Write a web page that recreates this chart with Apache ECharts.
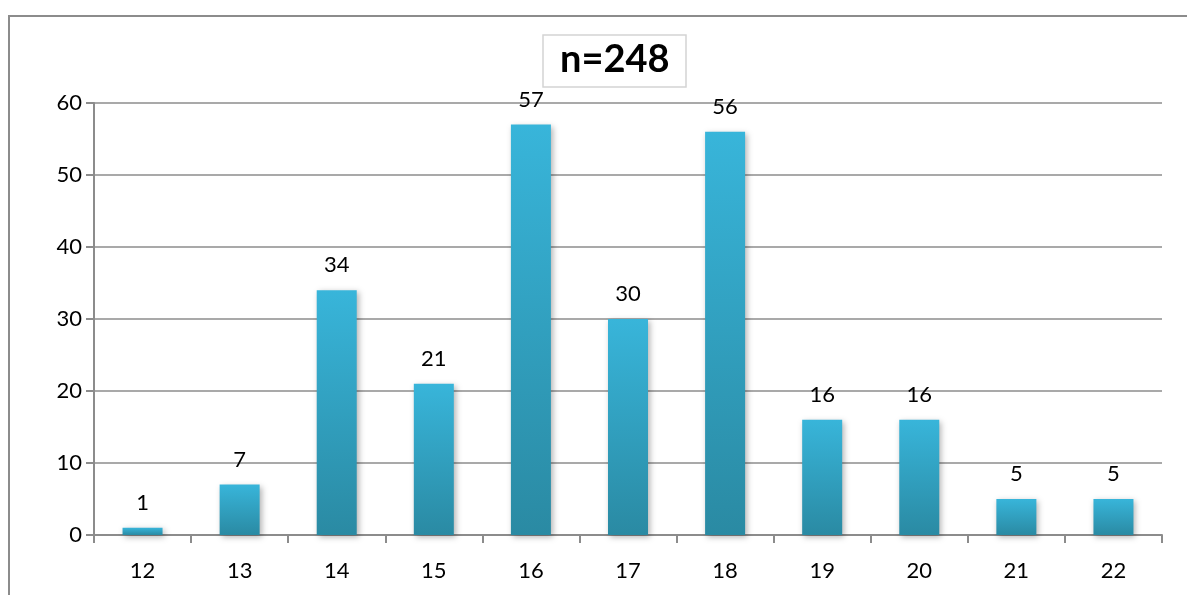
<!DOCTYPE html>
<html>
<head>
<meta charset="utf-8">
<script src="https://cdn.jsdelivr.net/npm/echarts@6/dist/echarts.min.js"></script>
<style>
  html, body { margin: 0; padding: 0; background: #fff; }
  #chart { width: 1187px; height: 595px; }
</style>
</head>
<body>
<div id="chart"></div>
<script>
// Ages and the number of respondents at each age
const categories = ['12', '13', '14', '15', '16', '17', '18', '19', '20', '21', '22'];
const counts = [1, 7, 34, 21, 57, 30, 56, 16, 16, 5, 5];
const yTicks = { min: 0, max: 60, interval: 10 };
const titleText = 'n=248';

const chart = echarts.init(document.getElementById('chart'));
const font = 'Lato, "Open Sans", sans-serif';

chart.setOption({
  animation: false,
  title: {
    text: titleText,
    left: 543,
    top: 35,
    padding: [6, 17, 8, 17],
    borderColor: '#d4d4d4',
    borderWidth: 1.5,
    textStyle: { fontFamily: font, fontSize: 38, fontWeight: 'bold', color: '#000' }
  },
  graphic: [{
    type: 'rect',
    shape: { x: 9, y: 16, width: 1200, height: 600 },
    style: { fill: 'none', stroke: '#8c8c8c', lineWidth: 2 },
    silent: true
  }],
  grid: { left: 94, right: 25, top: 103, bottom: 60 },
  xAxis: {
    type: 'category',
    data: categories,
    boundaryGap: true,
    axisLine: { lineStyle: { color: '#8c8c8c', width: 2 } },
    axisTick: { show: true, length: 8, alignWithLabel: false, lineStyle: { color: '#8c8c8c', width: 2 } },
    axisLabel: { color: '#000', fontFamily: font, fontSize: 22, margin: 25 }
  },
  yAxis: {
    type: 'value',
    min: yTicks.min,
    max: yTicks.max,
    interval: yTicks.interval,
    axisLine: { show: true, lineStyle: { color: '#8c8c8c', width: 2 } },
    axisTick: { show: true, length: 8, lineStyle: { color: '#8c8c8c', width: 2 } },
    axisLabel: { color: '#000', fontFamily: font, fontSize: 22, margin: 12 },
    splitLine: { lineStyle: { color: '#8c8c8c', width: 1.5 } }
  },
  series: [{
    type: 'bar',
    data: counts,
    barWidth: 40,
    itemStyle: {
      color: new echarts.graphic.LinearGradient(0, 0, 0, 1, [
        { offset: 0, color: '#38b5da' },
        { offset: 1, color: '#2a8aa3' }
      ]),
      shadowColor: 'rgba(0,0,0,0.3)',
      shadowBlur: 6,
      shadowOffsetX: 2,
      shadowOffsetY: 2
    },
    label: {
      show: true,
      position: 'top',
      distance: 14,
      color: '#000',
      fontFamily: font,
      fontSize: 22
    }
  }]
});
</script>
</body>
</html>
